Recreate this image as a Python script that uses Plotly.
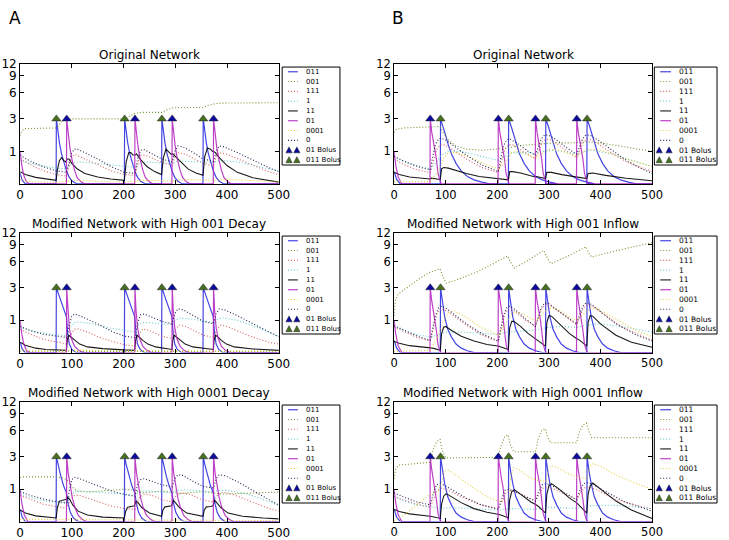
import math
import plotly.graph_objects as go

W, H = 729, 540

# ---------------- data ----------------
A_011_BOLUS = [70, 202, 274, 354]
A_01_BOLUS = [90, 222, 294, 374]
B_01_BOLUS = [70, 202, 274, 354]
B_011_BOLUS = [90, 222, 294, 374]
BOLUS_LEVEL = 3

X_TICKS = [0, 100, 200, 300, 400, 500]
Y_TICKS = [1, 3, 6, 9, 12]
Y_MAX = 12

SERIES_NAMES = ['011', '001', '111', '1', '11', '01', '0001', '0']
BOLUS_NAMES = ['01 Bolus', '011 Bolus']
TITLES = ['Original Network', 'Original Network',
          'Modified Network with High 001 Decay', 'Modified Network with High 001 Inflow',
          'Modified Network with High 0001 Decay', 'Modified Network with High 0001 Inflow']

# ---- A1: Original Network (column A) ----
A1_011 = [(0, 0.25), (4, 0.08), (10, 0), (69.5, 0), (70, 3), (73, 2.0), (76, 1.4), (80, 0.9), (85, 0.55), (90, 0.3), (95, 0.15), (101, 0.06), (110, 0),
          (201.5, 0), (202, 3), (205, 2.0), (208, 1.4), (212, 0.9), (217, 0.55), (222, 0.3), (227, 0.15), (233, 0.06), (242, 0),
          (273.5, 0), (274, 3), (277, 2.0), (280, 1.4), (284, 0.9), (289, 0.55), (294, 0.3), (299, 0.15), (305, 0.06), (314, 0),
          (353.5, 0), (354, 3), (357, 2.0), (360, 1.4), (364, 0.9), (369, 0.55), (374, 0.3), (379, 0.15), (385, 0.06), (394, 0), (500, 0)]
A1_001 = [(0, 1.8), (3, 2.1), (10, 2.25), (69, 2.3), (75, 2.5), (82, 2.85), (90, 3.0), (202, 3.0), (212, 3.25), (222, 3.5), (235, 3.6), (274, 3.6),
          (284, 3.85), (294, 4.05), (310, 4.1), (354, 4.1), (364, 4.35), (374, 4.5), (390, 4.6), (500, 4.65)]
A1_111 = [(0, 0.72), (10, 0.6), (30, 0.42), (50, 0.3), (70, 0.22), (90, 0.18), (95, 0.5), (100, 0.8), (106, 0.87), (120, 0.75), (150, 0.5), (180, 0.3),
          (202, 0.22), (222, 0.2), (228, 0.6), (234, 0.85), (245, 0.82), (274, 0.58), (294, 0.48), (300, 0.85), (306, 0.95), (320, 0.88),
          (354, 0.55), (374, 0.47), (380, 0.85), (386, 0.95), (400, 0.88), (440, 0.55), (480, 0.3), (500, 0.22)]
A1_1 = [(0, 0.65), (20, 0.55), (50, 0.45), (70, 0.4), (90, 0.38), (100, 0.55), (115, 0.6), (150, 0.55), (202, 0.45), (222, 0.43), (235, 0.6),
        (260, 0.58), (294, 0.55), (305, 0.63), (330, 0.62), (374, 0.58), (385, 0.65), (420, 0.6), (460, 0.45), (500, 0.32)]
A1_11 = [(0, 0.3), (10, 0.22), (30, 0.15), (50, 0.11), (69.5, 0.08), (72, 0.35), (76, 0.65), (80, 0.75), (84, 0.65), (88, 0.6), (91, 0.7), (94, 0.7),
         (100, 0.55), (110, 0.38), (125, 0.25), (150, 0.16), (175, 0.11), (201.5, 0.08), (205, 0.6), (210, 0.95), (214, 0.95), (218, 0.85),
         (222, 0.85), (225, 0.9), (232, 0.7), (245, 0.45), (260, 0.3), (273.5, 0.22), (277, 0.75), (282, 1.1), (287, 1.0), (292, 0.88),
         (295, 0.9), (300, 0.8), (312, 0.55), (325, 0.37), (340, 0.26), (353.5, 0.2), (357, 0.8), (362, 1.15), (368, 1.1), (372, 1.0),
         (376, 0.98), (385, 0.75), (400, 0.48), (420, 0.28), (450, 0.14), (480, 0.07), (500, 0.04)]
A1_01 = [(0, 1.0), (3, 0.5), (7, 0.2), (12, 0.05), (18, 0), (89.5, 0), (90, 3), (93, 1.9), (96, 1.2), (100, 0.7), (105, 0.35), (110, 0.15), (117, 0.05), (125, 0),
         (221.5, 0), (222, 3), (225, 1.9), (228, 1.2), (232, 0.7), (237, 0.35), (242, 0.15), (249, 0.05), (257, 0),
         (293.5, 0), (294, 3), (297, 1.9), (300, 1.2), (304, 0.7), (309, 0.35), (314, 0.15), (321, 0.05), (329, 0),
         (373.5, 0), (374, 3), (377, 1.9), (380, 1.2), (384, 0.7), (389, 0.35), (394, 0.15), (401, 0.05), (409, 0), (500, 0)]
A1_0001 = [(0, 0.1), (20, 0.05), (70, 0.03), (100, 0.08), (150, 0.06), (202, 0.04), (240, 0.08), (294, 0.06), (320, 0.1), (374, 0.08), (400, 0.1), (500, 0.05)]
A1_0 = [(0, 0.85), (10, 0.72), (25, 0.58), (45, 0.44), (70, 0.32), (90, 0.28), (95, 0.6), (100, 0.95), (105, 1.1), (110, 1.1), (125, 0.95), (150, 0.7),
        (175, 0.45), (202, 0.28), (222, 0.25), (227, 0.7), (233, 1.05), (240, 1.08), (255, 0.9), (274, 0.7), (294, 0.6), (299, 1.0), (305, 1.25),
        (315, 1.2), (335, 0.95), (354, 0.7), (374, 0.62), (379, 1.0), (385, 1.25), (395, 1.2), (420, 0.95), (450, 0.65), (480, 0.42), (500, 0.3)]

# ---- A2: High 001 Decay ----
A2_011 = [(0, 0.25), (4, 0.08), (10, 0), (69.5, 0), (70, 3), (75, 2.4), (80, 1.9), (85, 1.5), (89.5, 1.15), (92, 0.5), (95, 0.2), (100, 0.07), (108, 0),
          (201.5, 0), (202, 3), (207, 2.4), (212, 1.9), (217, 1.5), (221.5, 1.15), (224, 0.5), (227, 0.2), (232, 0.07), (240, 0),
          (273.5, 0), (274, 3), (279, 2.4), (284, 1.9), (289, 1.5), (293.5, 1.15), (296, 0.5), (299, 0.2), (304, 0.07), (312, 0),
          (353.5, 0), (354, 3), (359, 2.4), (364, 1.9), (369, 1.5), (373.5, 1.15), (376, 0.5), (379, 0.2), (384, 0.07), (392, 0), (500, 0)]
A2_001 = [(0, 0.03), (500, 0.02)]
A2_111 = [(0, 0.65), (20, 0.48), (45, 0.33), (70, 0.25), (90, 0.2), (97, 0.45), (105, 0.65), (112, 0.66), (130, 0.55), (160, 0.35), (202, 0.18),
          (222, 0.15), (230, 0.5), (237, 0.66), (250, 0.6), (274, 0.42), (294, 0.35), (300, 0.65), (308, 0.8), (320, 0.75), (354, 0.45),
          (374, 0.38), (380, 0.65), (388, 0.8), (400, 0.75), (440, 0.45), (480, 0.25), (500, 0.2)]
A2_1 = [(0, 0.72), (20, 0.6), (50, 0.5), (70, 0.46), (90, 0.43), (97, 0.7), (105, 0.9), (115, 0.92), (140, 0.85), (170, 0.7), (202, 0.6), (222, 0.55),
        (230, 0.85), (240, 0.9), (260, 0.88), (294, 0.82), (300, 1.0), (310, 1.1), (330, 1.05), (354, 0.95), (374, 0.9), (382, 1.05), (392, 1.1),
        (420, 1.0), (460, 0.7), (500, 0.42)]
A2_11 = [(0, 0.25), (10, 0.17), (30, 0.1), (50, 0.07), (89.5, 0.05), (91, 0.3), (94, 0.45), (98, 0.4), (105, 0.3), (115, 0.2), (130, 0.13), (160, 0.09),
         (200, 0.06), (221.5, 0.05), (223, 0.3), (226, 0.45), (230, 0.4), (237, 0.3), (247, 0.2), (262, 0.13), (293.5, 0.07), (295, 0.3),
         (298, 0.45), (302, 0.4), (309, 0.3), (319, 0.2), (334, 0.13), (373.5, 0.07), (375, 0.3), (378, 0.45), (382, 0.4), (389, 0.3),
         (399, 0.2), (414, 0.13), (450, 0.08), (500, 0.05)]
A2_01 = [(0, 1.0), (3, 0.5), (7, 0.2), (12, 0.05), (18, 0), (89.5, 0), (90, 3), (92, 1.5), (95, 0.7), (99, 0.35), (105, 0.15), (113, 0.05), (122, 0),
         (221.5, 0), (222, 3), (224, 1.5), (227, 0.7), (231, 0.35), (237, 0.15), (245, 0.05), (254, 0),
         (293.5, 0), (294, 3), (296, 1.5), (299, 0.7), (303, 0.35), (309, 0.15), (317, 0.05), (326, 0),
         (373.5, 0), (374, 3), (376, 1.5), (379, 0.7), (383, 0.35), (389, 0.15), (397, 0.05), (406, 0), (500, 0)]
A2_0001 = [(0, 0.08), (30, 0.03), (100, 0.05), (500, 0.03)]
A2_0 = [(0, 0.75), (20, 0.6), (45, 0.48), (70, 0.42), (90, 0.38), (95, 0.8), (100, 1.2), (106, 1.28), (120, 1.15), (150, 0.85), (180, 0.55), (202, 0.42),
        (222, 0.38), (227, 0.85), (233, 1.25), (240, 1.28), (260, 1.1), (274, 0.95), (294, 0.85), (299, 1.3), (305, 1.55), (315, 1.5), (335, 1.2),
        (354, 0.95), (374, 0.85), (379, 1.3), (385, 1.55), (395, 1.5), (420, 1.2), (450, 0.85), (480, 0.55), (500, 0.4)]

# ---- A3: High 0001 Decay ----
A3_011 = [(0, 0.3), (4, 0.1), (10, 0), (69.5, 0), (70, 3), (73, 2.4), (76, 1.95), (79, 1.6), (84, 1.15), (89.5, 0.85), (93, 0.45), (97, 0.22), (103, 0.08), (112, 0),
          (201.5, 0), (202, 3), (205, 2.4), (208, 1.95), (211, 1.6), (216, 1.15), (221.5, 0.85), (225, 0.45), (229, 0.22), (235, 0.08), (244, 0),
          (273.5, 0), (274, 3), (277, 2.4), (280, 1.95), (283, 1.6), (288, 1.15), (293.5, 0.85), (297, 0.45), (301, 0.22), (307, 0.08), (316, 0),
          (353.5, 0), (354, 3), (357, 2.4), (360, 1.95), (363, 1.6), (368, 1.15), (373.5, 0.85), (377, 0.45), (381, 0.22), (387, 0.08), (396, 0), (500, 0)]
A3_001 = [(0, 1.55), (5, 1.6), (70, 1.6), (80, 1.55), (90, 1.45), (100, 1.1), (110, 0.92), (130, 0.88), (202, 1.0), (222, 0.95), (235, 0.85),
          (274, 0.92), (294, 0.88), (310, 0.82), (354, 0.9), (374, 0.85), (390, 0.8), (500, 0.88)]
A3_111 = [(0, 0.75), (20, 0.6), (45, 0.45), (70, 0.38), (90, 0.33), (97, 0.6), (105, 0.75), (115, 0.75), (140, 0.6), (175, 0.4), (202, 0.32),
          (222, 0.3), (230, 0.65), (240, 0.8), (255, 0.75), (274, 0.6), (294, 0.52), (302, 0.75), (312, 0.85), (330, 0.78), (354, 0.58),
          (374, 0.52), (382, 0.78), (392, 0.88), (410, 0.8), (450, 0.5), (480, 0.33), (500, 0.25)]
A3_1 = [(0, 0.8), (20, 0.68), (50, 0.55), (70, 0.5), (90, 0.47), (97, 0.75), (105, 0.9), (120, 0.92), (150, 0.88), (202, 0.8), (222, 0.75), (230, 0.9),
        (245, 0.93), (274, 0.88), (294, 0.85), (302, 0.95), (320, 0.97), (354, 0.92), (374, 0.88), (382, 0.95), (400, 0.95), (440, 0.8),
        (480, 0.55), (500, 0.42)]
A3_11 = [(0, 0.28), (10, 0.2), (30, 0.13), (50, 0.1), (69.5, 0.08), (72, 0.35), (76, 0.55), (82, 0.58), (88, 0.6), (92, 0.68), (96, 0.6), (102, 0.42),
         (112, 0.25), (130, 0.15), (160, 0.1), (201.5, 0.08), (204, 0.25), (208, 0.36), (215, 0.38), (221, 0.4), (224, 0.55), (228, 0.5),
         (235, 0.35), (250, 0.2), (273.5, 0.12), (276, 0.28), (280, 0.37), (288, 0.38), (293, 0.4), (296, 0.58), (300, 0.5), (308, 0.35),
         (322, 0.2), (353.5, 0.12), (356, 0.28), (360, 0.37), (368, 0.38), (373, 0.4), (376, 0.58), (380, 0.5), (388, 0.35), (402, 0.2),
         (430, 0.12), (470, 0.08), (500, 0.06)]
A3_01 = [(0, 1.0), (3, 0.5), (8, 0.15), (15, 0), (89.5, 0), (90, 3), (93, 1.8), (97, 1.1), (101, 0.65), (106, 0.35), (112, 0.15), (120, 0.05), (128, 0),
         (221.5, 0), (222, 3), (225, 1.8), (229, 1.1), (233, 0.65), (238, 0.35), (244, 0.15), (252, 0.05), (260, 0),
         (293.5, 0), (294, 3), (297, 1.8), (301, 1.1), (305, 0.65), (310, 0.35), (316, 0.15), (324, 0.05), (332, 0),
         (373.5, 0), (374, 3), (377, 1.8), (381, 1.1), (385, 0.65), (390, 0.35), (396, 0.15), (404, 0.05), (412, 0), (500, 0)]
A3_0001 = [(0, 0.05), (500, 0.02)]
A3_0 = [(0, 0.9), (20, 0.75), (45, 0.62), (70, 0.53), (90, 0.5), (95, 1.0), (100, 1.45), (106, 1.58), (120, 1.45), (150, 1.15), (180, 0.9), (202, 0.78),
        (222, 0.72), (227, 1.2), (233, 1.45), (240, 1.5), (260, 1.3), (274, 1.2), (294, 1.1), (299, 1.5), (305, 1.72), (315, 1.68), (335, 1.35),
        (354, 1.12), (374, 1.05), (379, 1.5), (385, 1.72), (395, 1.68), (420, 1.35), (450, 0.95), (480, 0.6), (500, 0.42)]

# ---- B1: Original Network (column B) ----
B1_011 = [(0, 0.3), (5, 0.1), (12, 0), (89.5, 0), (90, 3), (95, 2.4), (100, 1.8), (105, 1.3), (111, 0.9), (120, 0.55), (130, 0.32), (142, 0.17), (155, 0.09), (170, 0.04), (185, 0),
          (221.5, 0), (222, 3), (227, 2.4), (232, 1.8), (237, 1.3), (243, 0.9), (252, 0.55), (262, 0.32), (274, 0.17), (287, 0.09), (302, 0.04), (317, 0),
          (293.5, 0), (294, 3), (299, 2.4), (304, 1.8), (309, 1.3), (315, 0.9), (324, 0.55), (334, 0.32), (346, 0.17), (359, 0.09), (374, 0.04), (389, 0),
          (373.5, 0), (374, 3), (379, 2.4), (384, 1.8), (389, 1.3), (395, 0.9), (404, 0.55), (414, 0.32), (426, 0.17), (439, 0.09), (454, 0.04), (469, 0), (500, 0)]
B1_001 = [(0, 2.0), (4, 2.2), (20, 2.3), (89, 2.4), (95, 2.0), (105, 1.55), (120, 1.25), (140, 1.1), (170, 1.05), (202, 1.1), (222, 1.15),
          (235, 1.25), (260, 1.3), (294, 1.35), (310, 1.4), (340, 1.4), (374, 1.45), (400, 1.4), (450, 1.2), (500, 1.0)]
B1_111 = [(0, 0.7), (20, 0.5), (45, 0.35), (70, 0.27), (76, 0.6), (83, 1.1), (90, 1.3), (98, 1.3), (115, 1.05), (140, 0.7), (170, 0.42), (202, 0.27),
          (208, 0.6), (215, 1.1), (222, 1.3), (230, 1.3), (250, 1.0), (274, 0.7), (280, 1.0), (287, 1.45), (295, 1.6), (305, 1.55), (330, 1.1),
          (354, 0.75), (360, 1.05), (367, 1.45), (375, 1.6), (385, 1.55), (410, 1.1), (450, 0.6), (500, 0.3)]
B1_1 = [(0, 0.78), (20, 0.6), (45, 0.47), (70, 0.38), (80, 0.55), (92, 0.85), (105, 1.0), (130, 1.0), (160, 0.85), (202, 0.65), (215, 0.8), (230, 0.95),
        (260, 0.95), (274, 0.9), (290, 1.0), (305, 1.05), (330, 1.0), (354, 0.9), (370, 1.0), (385, 1.05), (420, 0.9), (460, 0.65), (500, 0.45)]
B1_11 = [(0, 0.28), (10, 0.22), (30, 0.16), (50, 0.13), (69.5, 0.11), (72, 0.13), (80, 0.11), (89.5, 0.1), (92, 0.38), (96, 0.42), (105, 0.4),
         (120, 0.33), (140, 0.25), (165, 0.17), (201.5, 0.11), (204, 0.12), (215, 0.1), (221.5, 0.09), (224, 0.3), (230, 0.3), (245, 0.26),
         (260, 0.2), (273.5, 0.16), (276, 0.17), (285, 0.14), (293.5, 0.12), (296, 0.28), (305, 0.28), (325, 0.22), (353.5, 0.16),
         (356, 0.17), (365, 0.14), (373.5, 0.12), (376, 0.25), (385, 0.26), (410, 0.2), (450, 0.13), (500, 0.07)]
B1_01 = [(0, 1.0), (3, 0.5), (8, 0.15), (15, 0), (69.5, 0), (70, 3), (73, 2.0), (76, 1.5), (79, 1.15), (82, 0.7), (85, 0.25), (88, 0.08), (91, 0),
         (201.5, 0), (202, 3), (205, 2.0), (208, 1.5), (211, 1.15), (214, 0.7), (217, 0.25), (220, 0.08), (223, 0),
         (273.5, 0), (274, 3), (277, 2.0), (280, 1.5), (283, 1.15), (286, 0.7), (289, 0.25), (292, 0.08), (295, 0),
         (353.5, 0), (354, 3), (357, 2.0), (360, 1.5), (363, 1.15), (366, 0.7), (369, 0.25), (372, 0.08), (375, 0), (500, 0)]
B1_0001 = [(0, 0.05), (70, 0.05), (85, 0.3), (95, 0.7), (105, 0.95), (120, 0.95), (150, 0.75), (180, 0.5), (202, 0.38), (215, 0.6), (228, 0.95),
           (240, 1.0), (274, 0.75), (288, 0.95), (300, 1.1), (320, 1.05), (354, 0.8), (368, 1.0), (380, 1.1), (400, 1.05), (450, 0.7), (500, 0.45)]
B1_0 = [(0, 0.8), (20, 0.62), (45, 0.45), (70, 0.35), (75, 0.8), (80, 1.3), (86, 1.6), (92, 1.65), (100, 1.55), (115, 1.25), (140, 0.85), (170, 0.5),
        (202, 0.3), (207, 0.75), (212, 1.25), (218, 1.55), (224, 1.62), (240, 1.35), (260, 1.0), (274, 0.85), (279, 1.2), (285, 1.6),
        (292, 1.85), (300, 1.82), (315, 1.55), (335, 1.15), (354, 0.88), (359, 1.2), (365, 1.6), (372, 1.85), (380, 1.82), (395, 1.55),
        (420, 1.1), (450, 0.65), (480, 0.38), (500, 0.25)]

# ---- B2: High 001 Inflow ----
B2_011 = [(0, 0.3), (5, 0.1), (12, 0), (89.5, 0), (90, 3), (94, 1.9), (98, 1.15), (104, 0.65), (111, 0.4), (120, 0.2), (130, 0.1), (142, 0.04), (155, 0),
          (221.5, 0), (222, 3), (226, 1.9), (230, 1.15), (236, 0.65), (243, 0.4), (252, 0.2), (262, 0.1), (274, 0.04), (287, 0),
          (293.5, 0), (294, 3), (298, 1.9), (302, 1.15), (308, 0.65), (315, 0.4), (324, 0.2), (334, 0.1), (346, 0.04), (359, 0),
          (373.5, 0), (374, 3), (378, 1.9), (382, 1.15), (388, 0.65), (395, 0.4), (404, 0.2), (414, 0.1), (426, 0.04), (439, 0), (500, 0)]
B2_001 = [(0, 1.2), (2, 2.0), (8, 2.5), (28, 3.1), (50, 3.9), (70, 4.6), (89, 5.0), (95, 4.0), (101, 3.4), (130, 3.9), (160, 4.6), (190, 5.6),
          (220, 6.9), (225, 6.0), (233, 5.1), (260, 6.2), (290, 7.9), (297, 6.5), (304, 5.7), (340, 7.0), (372, 8.6), (377, 7.4), (383, 6.7),
          (420, 7.6), (460, 8.5), (500, 9.5)]
B2_111 = [(0, 0.72), (20, 0.55), (45, 0.38), (70, 0.28), (76, 0.7), (83, 1.3), (90, 1.55), (98, 1.5), (115, 1.2), (140, 0.8), (170, 0.45), (202, 0.27),
          (208, 0.7), (215, 1.3), (222, 1.55), (232, 1.45), (255, 1.0), (274, 0.75), (280, 1.15), (287, 1.6), (295, 1.8), (305, 1.7), (325, 1.3),
          (354, 0.8), (360, 1.15), (367, 1.6), (375, 1.8), (385, 1.7), (405, 1.3), (440, 0.75), (500, 0.3)]
B2_1 = [(0, 0.75), (20, 0.6), (45, 0.47), (70, 0.4), (85, 0.45), (100, 0.55), (130, 0.55), (170, 0.52), (202, 0.48), (220, 0.55), (250, 0.6),
        (274, 0.62), (294, 0.7), (320, 0.75), (354, 0.72), (374, 0.8), (400, 0.85), (440, 0.75), (470, 0.65), (500, 0.55)]
B2_11 = [(0, 0.27), (10, 0.22), (30, 0.16), (50, 0.13), (69.5, 0.11), (75, 0.1), (89.5, 0.05), (92, 0.5), (96, 0.72), (100, 0.75), (110, 0.62),
         (130, 0.42), (155, 0.28), (180, 0.19), (201.5, 0.15), (210, 0.12), (221.5, 0.07), (224, 0.7), (228, 0.95), (232, 0.95), (245, 0.75),
         (260, 0.5), (273.5, 0.35), (280, 0.3), (293.5, 0.15), (296, 0.9), (300, 1.2), (305, 1.18), (320, 0.85), (340, 0.5), (353.5, 0.35),
         (360, 0.3), (373.5, 0.15), (376, 0.9), (380, 1.2), (385, 1.18), (400, 0.85), (430, 0.45), (460, 0.25), (500, 0.12)]
B2_01 = [(0, 1.0), (3, 0.5), (8, 0.15), (15, 0), (69.5, 0), (70, 3), (73, 2.0), (76, 1.5), (79, 1.1), (82, 0.6), (85, 0.2), (88, 0.06), (91, 0),
         (201.5, 0), (202, 3), (205, 2.0), (208, 1.5), (211, 1.1), (214, 0.6), (217, 0.2), (220, 0.06), (223, 0),
         (273.5, 0), (274, 3), (277, 2.0), (280, 1.5), (283, 1.1), (286, 0.6), (289, 0.2), (292, 0.06), (295, 0),
         (353.5, 0), (354, 3), (357, 2.0), (360, 1.5), (363, 1.1), (366, 0.6), (369, 0.2), (372, 0.06), (375, 0), (500, 0)]
B2_0001 = [(0, 0.03), (70, 0.05), (85, 0.4), (95, 0.9), (105, 1.35), (115, 1.45), (135, 1.2), (165, 0.75), (202, 0.45), (215, 0.8), (228, 1.3),
           (240, 1.4), (260, 1.15), (274, 0.95), (288, 1.3), (300, 1.6), (315, 1.55), (340, 1.15), (354, 1.0), (368, 1.3), (380, 1.6), (395, 1.55),
           (430, 1.05), (470, 0.6), (500, 0.4)]
B2_0 = [(0, 0.78), (20, 0.6), (45, 0.42), (70, 0.3), (75, 0.7), (80, 1.2), (86, 1.6), (92, 1.7), (100, 1.6), (115, 1.3), (140, 0.85), (170, 0.5),
        (202, 0.28), (207, 0.7), (212, 1.2), (218, 1.6), (224, 1.7), (235, 1.5), (255, 1.05), (274, 0.75), (279, 1.1), (285, 1.6), (292, 1.9),
        (300, 1.85), (320, 1.4), (354, 0.85), (359, 1.2), (365, 1.65), (372, 1.9), (380, 1.85), (400, 1.4), (430, 0.85), (470, 0.45), (500, 0.28)]

# ---- B3: High 0001 Inflow ----
B3_011 = [(0, 0.3), (5, 0.1), (12, 0), (89.5, 0), (90, 3), (94, 1.9), (98, 1.25), (104, 0.7), (111, 0.43), (120, 0.2), (130, 0.1), (142, 0.04), (155, 0),
          (221.5, 0), (222, 3), (226, 1.9), (230, 1.25), (236, 0.7), (243, 0.43), (252, 0.2), (262, 0.1), (274, 0.04), (287, 0),
          (293.5, 0), (294, 3), (298, 1.9), (302, 1.25), (308, 0.7), (315, 0.43), (324, 0.2), (334, 0.1), (346, 0.04), (359, 0),
          (373.5, 0), (374, 3), (378, 1.9), (382, 1.25), (388, 0.7), (395, 0.43), (404, 0.2), (414, 0.1), (426, 0.04), (439, 0), (500, 0)]
B3_001 = [(0, 1.5), (3, 2.1), (10, 2.35), (40, 2.45), (70, 2.55), (75, 3.5), (82, 4.5), (89, 4.8), (93, 3.6), (100, 2.9), (202, 2.95), (207, 4.0),
          (214, 5.1), (221, 5.4), (225, 4.2), (232, 3.45), (274, 3.45), (279, 4.8), (286, 6.0), (293, 6.3), (297, 5.2), (303, 4.4), (354, 4.4),
          (359, 5.8), (366, 6.9), (373, 7.2), (377, 6.0), (383, 5.0), (500, 5.0)]
B3_111 = [(0, 0.72), (20, 0.58), (45, 0.45), (70, 0.36), (76, 0.6), (84, 0.95), (92, 1.05), (105, 0.95), (130, 0.7), (165, 0.45), (202, 0.32),
          (209, 0.55), (217, 0.85), (225, 0.95), (240, 0.85), (274, 0.55), (281, 0.8), (289, 1.05), (297, 1.1), (310, 1.0), (354, 0.6),
          (361, 0.85), (369, 1.05), (377, 1.1), (390, 1.0), (430, 0.6), (500, 0.3)]
B3_1 = [(0, 0.7), (20, 0.55), (45, 0.43), (70, 0.36), (90, 0.32), (110, 0.35), (150, 0.32), (202, 0.28), (230, 0.32), (274, 0.3), (300, 0.36),
        (354, 0.33), (380, 0.4), (420, 0.42), (460, 0.38), (500, 0.32)]
B3_11 = [(0, 0.3), (10, 0.24), (30, 0.18), (50, 0.14), (69.5, 0.12), (75, 0.11), (89.5, 0.07), (92, 0.45), (96, 0.72), (101, 0.82), (112, 0.7),
         (130, 0.5), (155, 0.32), (180, 0.22), (201.5, 0.17), (210, 0.14), (221.5, 0.08), (224, 0.6), (228, 0.9), (233, 0.98), (245, 0.8),
         (265, 0.52), (273.5, 0.45), (280, 0.38), (293.5, 0.2), (296, 0.8), (300, 1.15), (305, 1.25), (320, 1.0), (340, 0.65), (353.5, 0.5),
         (360, 0.4), (373.5, 0.2), (376, 0.8), (380, 1.15), (385, 1.28), (400, 1.0), (430, 0.55), (460, 0.28), (500, 0.07)]
B3_01 = [(0, 1.0), (3, 0.5), (8, 0.15), (15, 0), (69.5, 0), (70, 3), (73, 2.0), (76, 1.5), (79, 1.1), (82, 0.6), (85, 0.2), (88, 0.06), (91, 0),
         (201.5, 0), (202, 3), (205, 2.0), (208, 1.5), (211, 1.1), (214, 0.6), (217, 0.2), (220, 0.06), (223, 0),
         (273.5, 0), (274, 3), (277, 2.0), (280, 1.5), (283, 1.1), (286, 0.6), (289, 0.2), (292, 0.06), (295, 0),
         (353.5, 0), (354, 3), (357, 2.0), (360, 1.5), (363, 1.1), (366, 0.6), (369, 0.2), (372, 0.06), (375, 0), (500, 0)]
B3_0001 = [(0, 0.02), (20, 0.15), (45, 0.45), (70, 0.8), (85, 0.9), (92, 1.3), (98, 1.95), (105, 2.0), (120, 1.7), (150, 1.1), (180, 0.7), (202, 0.55),
           (222, 0.6), (226, 1.6), (232, 2.15), (240, 2.1), (260, 1.6), (274, 1.45), (294, 1.35), (298, 2.0), (304, 2.3), (315, 2.2), (340, 1.75),
           (354, 1.6), (374, 1.5), (378, 2.1), (384, 2.45), (395, 2.35), (430, 1.7), (470, 1.25), (500, 1.0)]
B3_0 = [(0, 0.85), (20, 0.68), (45, 0.52), (70, 0.43), (75, 0.75), (82, 1.2), (88, 1.25), (95, 1.2), (110, 1.0), (140, 0.65), (170, 0.42), (202, 0.3),
        (208, 0.6), (215, 0.95), (222, 1.0), (230, 0.95), (255, 0.7), (274, 0.55), (280, 0.9), (287, 1.2), (294, 1.25), (303, 1.2), (330, 0.85),
        (354, 0.6), (360, 0.95), (367, 1.25), (374, 1.3), (383, 1.25), (410, 0.9), (450, 0.5), (500, 0.25)]

# ---------------- styling ----------------
DOT = '1px,2px'
STYLE = {
    '011': dict(color='rgba(35,35,225,0.85)', width=1.2, dash='solid'),
    '001': dict(color='rgba(105,145,35,0.95)', width=1.1, dash=DOT),
    '111': dict(color='rgba(215,70,70,0.85)', width=1.1, dash=DOT),
    '1': dict(color='rgba(80,195,195,0.85)', width=1.1, dash=DOT),
    '11': dict(color='rgba(0,0,0,0.9)', width=1.1, dash='solid'),
    '01': dict(color='rgba(180,30,190,0.85)', width=1.2, dash='solid'),
    '0001': dict(color='rgba(225,200,40,0.9)', width=1.1, dash=DOT),
    '0': dict(color='rgba(25,25,75,0.95)', width=1.1, dash=DOT),
}
BOLUS_COLORS = {'01 Bolus': '#0a0aa0', '011 Bolus': '#46701e'}
FONT = 'DejaVu Sans'

COL_PX = {'A': (16.5, 280.5), 'B': (398.3, 661.7)}
ROW_PX = [(57.8, 180.6), (230.3, 352.8), (402.8, 525.3)]
LEG = {'A': dict(x0=284, x1=343, l0=290, l1=300, tx=306, t1=291, t2=299, fs=7),
       'B': dict(x0=664, x1=728, l0=670, l1=681, tx=687, t1=669, t2=679, fs=7.5)}

PANELS = [
    (TITLES[0], 'A', 0, [A1_011, A1_001, A1_111, A1_1, A1_11, A1_01, A1_0001, A1_0], A_01_BOLUS, A_011_BOLUS),
    (TITLES[1], 'B', 0, [B1_011, B1_001, B1_111, B1_1, B1_11, B1_01, B1_0001, B1_0], B_01_BOLUS, B_011_BOLUS),
    (TITLES[2], 'A', 1, [A2_011, A2_001, A2_111, A2_1, A2_11, A2_01, A2_0001, A2_0], A_01_BOLUS, A_011_BOLUS),
    (TITLES[3], 'B', 1, [B2_011, B2_001, B2_111, B2_1, B2_11, B2_01, B2_0001, B2_0], B_01_BOLUS, B_011_BOLUS),
    (TITLES[4], 'A', 2, [A3_011, A3_001, A3_111, A3_1, A3_11, A3_01, A3_0001, A3_0], A_01_BOLUS, A_011_BOLUS),
    (TITLES[5], 'B', 2, [B3_011, B3_001, B3_111, B3_1, B3_11, B3_01, B3_0001, B3_0], B_01_BOLUS, B_011_BOLUS),
]


def px(x):
    return x / W


def py(y):
    return 1 - y / H


fig = go.Figure()
layout = dict(width=W, height=H, margin=dict(l=0, r=0, t=0, b=0), showlegend=False,
              paper_bgcolor='white', plot_bgcolor='white', font=dict(family=FONT, color='black'))
shapes, annotations = [], []

for k, (title, col, row, series, b01, b011) in enumerate(PANELS):
    i = k + 1
    xa, ya = ('x' if i == 1 else f'x{i}'), ('y' if i == 1 else f'y{i}')
    for name, pts in zip(SERIES_NAMES, series):
        fig.add_trace(go.Scatter(x=[p[0] for p in pts], y=[p[1] + 1 for p in pts], mode='lines',
                                 line=STYLE[name], xaxis=xa, yaxis=ya, hoverinfo='skip'))
    for bname, times in zip(BOLUS_NAMES, [b01, b011]):
        fig.add_trace(go.Scatter(x=times, y=[BOLUS_LEVEL + 1] * len(times), mode='markers',
                                 marker=dict(symbol='triangle-up', size=8, color=BOLUS_COLORS[bname],
                                             line=dict(width=0.5, color='#202020')),
                                 xaxis=xa, yaxis=ya, hoverinfo='skip'))
    c0, c1 = COL_PX[col]
    r0, r1 = ROW_PX[row]
    fs_tick = 12 if col == 'A' else 11.5
    layout['xaxis' if i == 1 else f'xaxis{i}'] = dict(
        domain=[px(c0), px(c1)], anchor=ya, range=[0, 500], tickvals=X_TICKS,
        ticks='inside', ticklen=4, tickwidth=1, tickcolor='black', showline=True, linecolor='black', linewidth=1,
        mirror='allticks', showgrid=False, zeroline=False, tickfont=dict(size=fs_tick, family=FONT))
    layout['yaxis' if i == 1 else f'yaxis{i}'] = dict(
        domain=[py(r1), py(r0)], anchor=xa, type='log', range=[0, math.log10(Y_MAX + 1)],
        tickvals=[v + 1 for v in Y_TICKS], ticktext=[str(v) for v in Y_TICKS],
        ticks='inside', ticklen=4, tickwidth=1, tickcolor='black', showline=True, linecolor='black', linewidth=1,
        mirror='allticks', showgrid=False, zeroline=False, tickfont=dict(size=fs_tick, family=FONT))
    annotations.append(dict(text=title, x=px((c0 + c1) / 2), y=py(r0), xref='paper', yref='paper',
                            xanchor='center', yanchor='bottom', yshift=0, showarrow=False,
                            font=dict(size=12, family=FONT)))
    L = LEG[col]
    top = r0 + 3.5
    shapes.append(dict(type='rect', xref='paper', yref='paper', x0=px(L['x0']), x1=px(L['x1']),
                       y0=py(top), y1=py(top + 100), line=dict(color='black', width=1), fillcolor='white'))
    labels = SERIES_NAMES + BOLUS_NAMES
    for j, lab in enumerate(labels):
        yy = top + 4.8 + 10 * j
        if lab in STYLE:
            st = STYLE[lab]
            shapes.append(dict(type='line', xref='paper', yref='paper', x0=px(L['l0']), x1=px(L['l1']),
                               y0=py(yy), y1=py(yy), line=dict(color=st['color'], width=st['width'], dash=st['dash'])))
        else:
            for cx in (L['t1'], L['t2']):
                path = (f"M {px(cx - 3.2)} {py(yy + 2.8)} L {px(cx + 3.2)} {py(yy + 2.8)} "
                        f"L {px(cx)} {py(yy - 3.3)} Z")
                shapes.append(dict(type='path', xref='paper', yref='paper', path=path,
                                   fillcolor=BOLUS_COLORS[lab], line=dict(color='#202020', width=0.5)))
        annotations.append(dict(text=lab, x=px(L['tx']), y=py(yy), xref='paper', yref='paper',
                                xanchor='left', yanchor='middle', showarrow=False,
                                font=dict(size=L['fs'], family=FONT)))

annotations.append(dict(text='A', x=px(3), y=py(11), xref='paper', yref='paper', xanchor='left',
                        yanchor='middle', showarrow=False, font=dict(size=17, family=FONT)))
annotations.append(dict(text='B', x=px(394), y=py(11), xref='paper', yref='paper', xanchor='left',
                        yanchor='middle', showarrow=False, font=dict(size=17, family=FONT)))

layout['shapes'] = shapes
layout['annotations'] = annotations
fig.update_layout(**layout)
fig.write_html('out.html', config={'responsive': False, 'displayModeBar': False},
               post_script="document.body.style.margin='0';document.body.style.padding='0';"
                           "document.body.style.overflow='hidden';")
